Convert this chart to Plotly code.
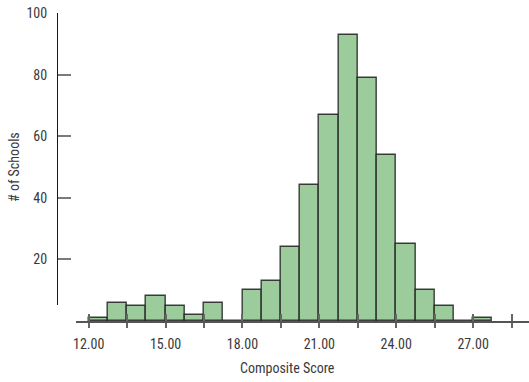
import plotly.graph_objects as go

# Histogram data: bins of width 0.75 starting at 12.00
bin_start = 12.0
bin_width = 0.75
counts = [1, 6, 5, 8, 5, 2, 6, 0, 10, 13, 24, 44, 67, 93, 79, 54, 25, 10, 5, 0, 1]
x_tick_vals = [12.0, 13.5, 15.0, 16.5, 18.0, 19.5, 21.0, 22.5, 24.0, 25.5, 27.0, 28.5]
x_tick_text = ["12.00", "", "15.00", "", "18.00", "", "21.00", "", "24.00", "", "27.00", ""]
y_tick_vals = [20, 40, 60, 80, 100]

bin_left = [bin_start + i * bin_width for i in range(len(counts))]

W, H = 529, 382
FONT = "Liberation Sans Narrow, Arial Narrow, Roboto Condensed, Liberation Sans, sans-serif"
x_dom0 = 73.3 / W
y_axis_pos = 54.3 / W
x_range = [11.5, 29.18]
y_range = [0, 100]
y_line_bottom = 5.35
T, B = 13, 61
PH = H - T - B
TXT = "#3a3a3a"

fig = go.Figure()
fig.add_trace(go.Bar(
    x=bin_left, y=counts, width=bin_width, offset=0,
    marker=dict(color="#9CCB9C", line=dict(color="rgba(30,30,30,0.85)", width=1.4)),
    xaxis="x", yaxis="y", showlegend=False, hoverinfo="skip",
))
# helper traces so the decorative axes are drawn
fig.add_trace(go.Scatter(x=[None], y=[None], xaxis="x2", yaxis="y", showlegend=False))
fig.add_trace(go.Scatter(x=[None], y=[None], xaxis="x", yaxis="y2", showlegend=False))

fig.update_layout(
    width=W, height=H,
    margin=dict(l=0, r=0, t=T, b=B),
    paper_bgcolor="white", plot_bgcolor="rgba(0,0,0,0)",
    font=dict(family=FONT, size=14, color=TXT),
    bargap=0,
    xaxis=dict(
        domain=[x_dom0, 1], range=x_range, anchor="y",
        showgrid=False, zeroline=False,
        showline=True, linecolor="#555555", linewidth=1.5,
        tickmode="array", tickvals=x_tick_vals, ticktext=x_tick_text,
        ticks="outside", ticklen=5, tickwidth=1.5, tickcolor="#666666",
        tickfont=dict(family=FONT, size=14, color=TXT),
        ticklabelstandoff=4,
    ),
    xaxis2=dict(
        domain=[x_dom0, 1], range=x_range, anchor="y", overlaying="x", side="bottom",
        showgrid=False, zeroline=False, showline=False,
        tickmode="array", tickvals=x_tick_vals, showticklabels=False,
        ticks="inside", ticklen=7, tickwidth=1.5, tickcolor="#666666",
    ),
    yaxis=dict(
        domain=[0, 1], range=y_range, anchor="x",
        visible=False, showgrid=False, zeroline=False,
    ),
    yaxis2=dict(
        domain=[y_line_bottom / 100, 1], range=[y_line_bottom, 100],
        anchor="free", position=y_axis_pos, side="left",
        showgrid=False, zeroline=False,
        showline=True, linecolor="#1a1a1a", linewidth=1,
        tickmode="array", tickvals=y_tick_vals,
        ticks="inside", ticklen=13, tickwidth=1.6, tickcolor="#7a7a7a",
        tickfont=dict(family=FONT, size=14, color=TXT),
        ticklabelstandoff=7,
    ),
    annotations=[
        dict(text="Composite Score", xref="paper", yref="paper",
             x=286.5 / W, y=-(368 - (H - B)) / PH,
             xanchor="center", yanchor="middle", showarrow=False,
             font=dict(family=FONT, size=14, color=TXT)),
        dict(text="# of Schools", xref="paper", yref="paper",
             x=11 / W, y=((H - B) - 167) / PH, textangle=-90,
             xanchor="center", yanchor="middle", showarrow=False,
             font=dict(family=FONT, size=14, color=TXT)),
    ],
)

fig.write_html("out.html",
               config={"displayModeBar": False},
               post_script="document.body.style.margin='0';document.body.style.overflow='hidden';")
